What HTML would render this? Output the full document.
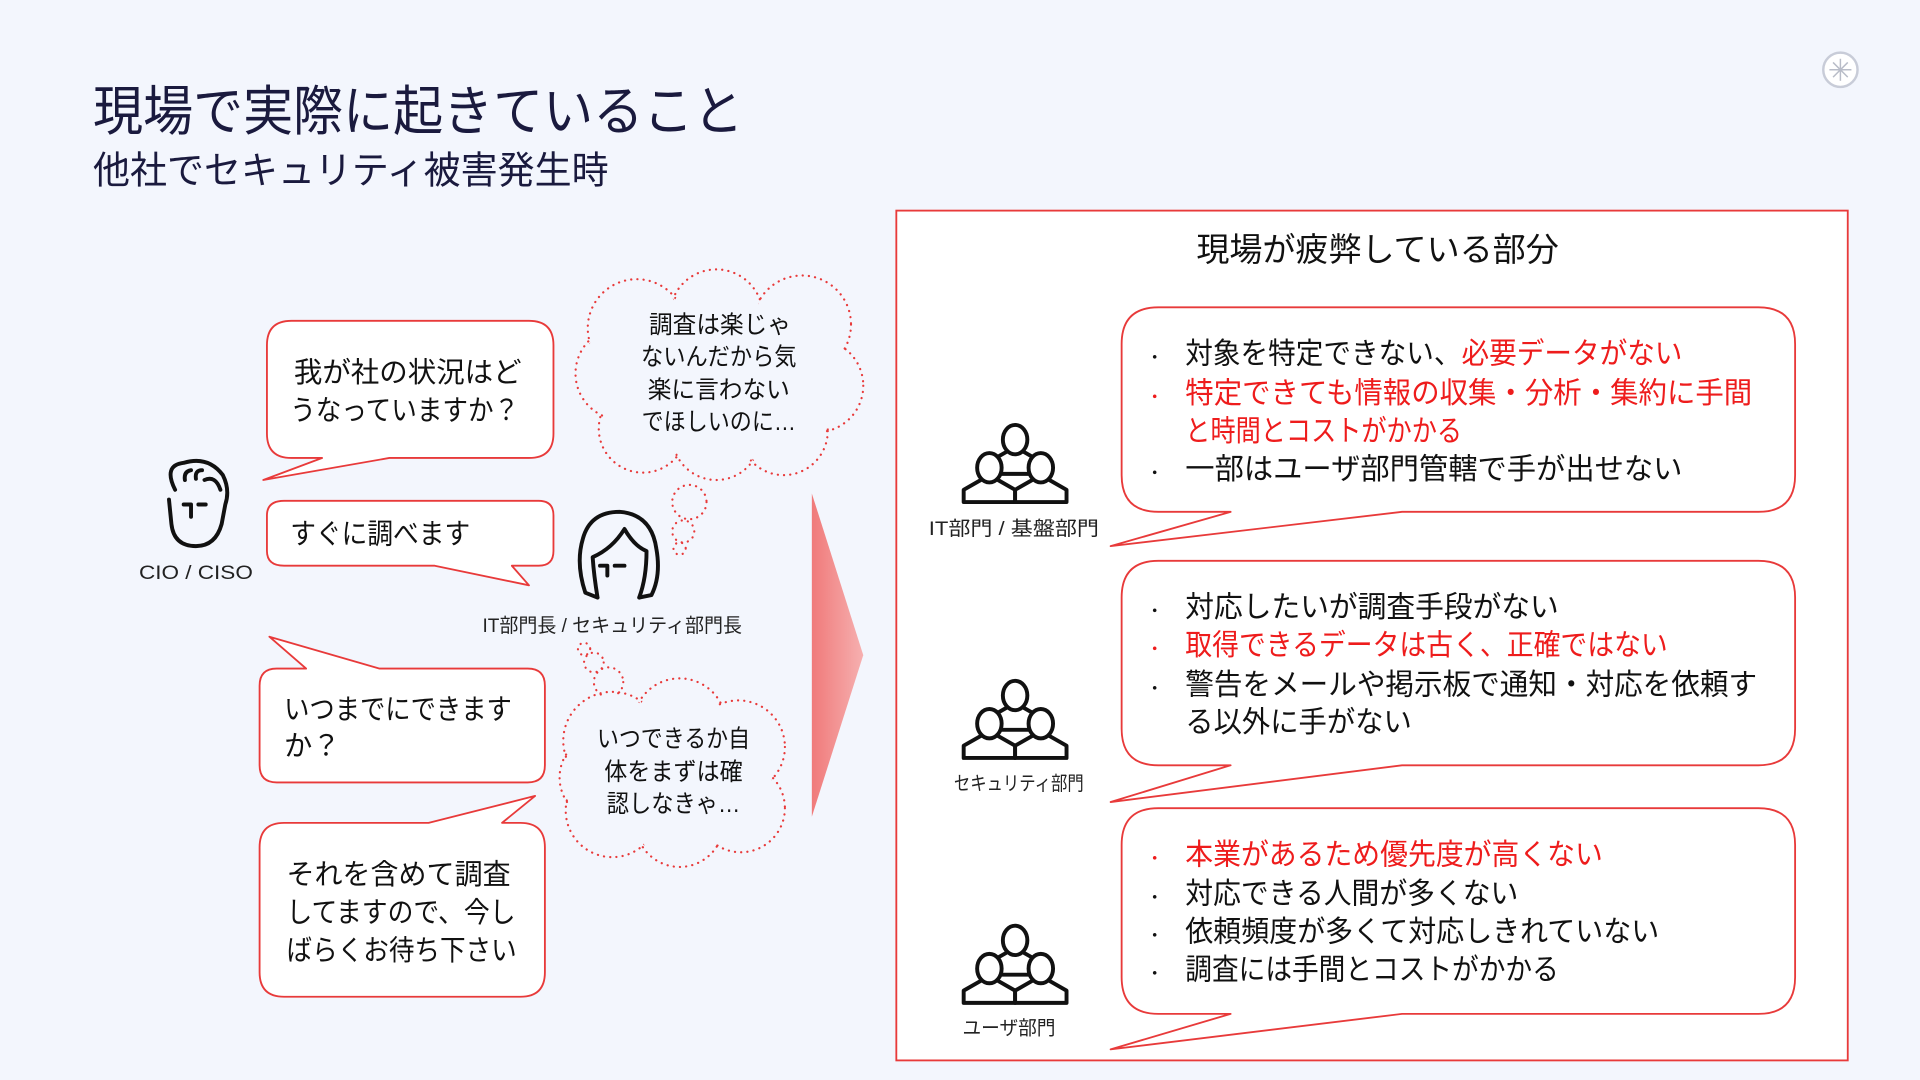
<!DOCTYPE html>
<html><head><meta charset="utf-8"><style>
html,body{margin:0;padding:0;background:#f3f6fd;}
svg{display:block}
text{font-family:"Liberation Sans","Noto Sans CJK JP",sans-serif;}
</style></head><body>
<svg width="1920" height="1080" viewBox="0 0 1568 882" xmlns="http://www.w3.org/2000/svg">
<defs>
<linearGradient id="ag" x1="0" y1="0" x2="1" y2="0">
<stop offset="0" stop-color="#f07a7a"/><stop offset="1" stop-color="#f6b0b0"/>
</linearGradient>
<g id="person">
<path d="M-7,22 L-21,30 L-21,40 L21,40 L21,30 L7,22" fill="#fff" stroke="#111" stroke-width="3.2" stroke-linejoin="round"/>
<ellipse cx="0" cy="12" rx="10" ry="12" fill="#fff" stroke="#111" stroke-width="3.2"/>
</g>
<g id="grp">
<use href="#person" x="0" y="0"/>
<use href="#person" x="-21" y="23"/>
<use href="#person" x="21" y="23"/>
</g>
</defs>
<rect width="1568" height="882" fill="#f3f6fd"/>
<circle cx="1503" cy="57" r="14" fill="#fff" stroke="#c8ccd8" stroke-width="2"/>
<g stroke="#b8bcc8" stroke-width="1.2"><line x1="1494" y1="57" x2="1512" y2="57"/><line x1="1503" y1="48" x2="1503" y2="66"/><line x1="1497" y1="51" x2="1509" y2="63"/><line x1="1509" y1="51" x2="1497" y2="63"/></g>

<text x="76" y="106" font-size="44" fill="#1a1a3e" textLength="531" lengthAdjust="spacingAndGlyphs">現場で実際に起きていること</text>
<text x="76" y="150" font-size="31" fill="#1a1a3e" textLength="421" lengthAdjust="spacingAndGlyphs">他社でセキュリティ被害発生時</text>

<g fill="#fff" stroke="#e83a3a" stroke-width="1.5" stroke-linejoin="round">
<path d="M238,262 H432 Q452,262 452,282 V354 Q452,374 432,374 H318 L215,392 L263,374 H238 Q218,374 218,354 V282 Q218,262 238,262 Z"/>
<path d="M232,409 H440 Q452,409 452,421 V450 Q452,462 440,462 H418 L432,478 L355,462 H232 Q218,462 218,450 V421 Q218,409 232,409 Z"/>
<path d="M226,546 H250 L220,520 L310,546 H431 Q445,546 445,560 V625 Q445,639 431,639 H226 Q212,639 212,625 V560 Q212,546 226,546 Z"/>
<path d="M232,672 H350 L437,650 L410,672 H425 Q445,672 445,692 V794 Q445,814 425,814 H232 Q212,814 212,794 V692 Q212,672 232,672 Z"/>
</g>
<g font-size="23" fill="#111" lengthAdjust="spacingAndGlyphs">
<text x="240" y="312" textLength="186" lengthAdjust="spacingAndGlyphs">我が社の状況はど</text>
<text x="237" y="343" textLength="187" lengthAdjust="spacingAndGlyphs">うなっていますか？</text>
<text x="237" y="444" textLength="147" lengthAdjust="spacingAndGlyphs">すぐに調べます</text>
<text x="232" y="587" textLength="186" lengthAdjust="spacingAndGlyphs">いつまでにできます</text>
<text x="232" y="617">か？</text>
<text x="234" y="722" textLength="183" lengthAdjust="spacingAndGlyphs">それを含めて調査</text>
<text x="234" y="753" textLength="187" lengthAdjust="spacingAndGlyphs">してますので、今し</text>
<text x="234" y="784" textLength="188" lengthAdjust="spacingAndGlyphs">ばらくお待ち下さい</text>
</g>

<g fill="none" stroke="#e83a3a" stroke-width="1.8" stroke-dasharray="0.1 5" stroke-linecap="round">
<circle cx="520" cy="268" r="40"/><circle cx="585" cy="258" r="38"/><circle cx="655" cy="265" r="40"/><circle cx="667" cy="315" r="38"/><circle cx="640" cy="352" r="36"/><circle cx="585" cy="356" r="36"/><circle cx="525" cy="350" r="36"/><circle cx="508" cy="305" r="38"/>
<circle cx="563" cy="410" r="14"/><circle cx="558" cy="434" r="9"/><circle cx="555" cy="448" r="5"/>
<circle cx="500" cy="605" r="40"/><circle cx="555" cy="592" r="38"/><circle cx="603" cy="610" r="38"/><circle cx="605" cy="660" r="36"/><circle cx="555" cy="672" r="36"/><circle cx="500" cy="662" r="38"/><circle cx="493" cy="635" r="36"/>
<circle cx="497" cy="557" r="12"/><circle cx="485" cy="541" r="8"/><circle cx="477" cy="530" r="5"/>
</g>
<g fill="#f3f6fd">
<circle cx="520" cy="268" r="38"/><circle cx="585" cy="258" r="36"/><circle cx="655" cy="265" r="38"/><circle cx="667" cy="315" r="36"/><circle cx="640" cy="352" r="34"/><circle cx="585" cy="356" r="34"/><circle cx="525" cy="350" r="34"/><circle cx="508" cy="305" r="36"/><ellipse cx="587" cy="308" rx="90" ry="55"/>
<circle cx="500" cy="605" r="38"/><circle cx="555" cy="592" r="36"/><circle cx="603" cy="610" r="36"/><circle cx="605" cy="660" r="34"/><circle cx="555" cy="672" r="34"/><circle cx="500" cy="662" r="36"/><circle cx="493" cy="635" r="34"/><ellipse cx="550" cy="632" rx="70" ry="50"/>
</g>
<g font-size="20" fill="#111" text-anchor="middle">
<text x="588" y="272" textLength="116" lengthAdjust="spacingAndGlyphs">調査は楽じゃ</text>
<text x="587" y="298" textLength="127" lengthAdjust="spacingAndGlyphs">ないんだから気</text>
<text x="587" y="325" textLength="116" lengthAdjust="spacingAndGlyphs">楽に言わない</text>
<text x="587" y="351" textLength="126" lengthAdjust="spacingAndGlyphs">でほしいのに…</text>
<text x="550" y="610" textLength="125" lengthAdjust="spacingAndGlyphs">いつできるか自</text>
<text x="550" y="637" textLength="113" lengthAdjust="spacingAndGlyphs">体をまずは確</text>
<text x="550" y="663" textLength="109" lengthAdjust="spacingAndGlyphs">認しなきゃ…</text>
</g>

<g fill="none" stroke="#111" stroke-width="3.2" stroke-linecap="round" stroke-linejoin="round">
<path d="M143,400 Q133,380 150,378 Q170,372 182,388 Q188,400 184,412 L181,428 Q176,446 160,446 Q142,446 140,428 L138,408"/>
<path d="M151,392 Q150,385 156,384 M160,391 Q159,384 165,384 M167,392 Q176,388 180,400"/>
<path d="M150,412 L156,412 L156,422 M162,412 L168,412"/>
<path d="M488,488 L478,484 Q470,460 476,440 Q482,418 506,418 Q532,420 536,448 Q540,470 532,486 L522,488 M488,488 Q485,470 484,455 Q500,448 510,432 Q518,446 528,450 Q528,472 522,488"/>
<path d="M490,462 L496,462 L496,470 M502,462 L510,462"/>
</g>
<g font-size="16" fill="#222" text-anchor="middle">
<text x="160" y="473" textLength="93" lengthAdjust="spacingAndGlyphs">CIO / CISO</text>
<text x="500" y="516" textLength="212" lengthAdjust="spacingAndGlyphs">IT部門長 / セキュリティ部門長</text>
</g>

<path d="M663,403 L705,535 L663,667 Z" fill="url(#ag)"/>

<rect x="732" y="172" width="777" height="694" fill="#fff" stroke="#e83a3a" stroke-width="1.5"/>
<text x="1125" y="213" font-size="27" fill="#111" text-anchor="middle" textLength="296" lengthAdjust="spacingAndGlyphs">現場が疲弊している部分</text>
<g fill="#fff" stroke="#e83a3a" stroke-width="1.5" stroke-linejoin="round">
<path d="M946,251 H1436 Q1466,251 1466,281 V388 Q1466,418 1436,418 H1145 L907,446 L1005,418 H946 Q916,418 916,388 V281 Q916,251 946,251 Z"/>
<path d="M946,458 H1436 Q1466,458 1466,488 V595 Q1466,625 1436,625 H1145 L907,655 L1005,625 H946 Q916,625 916,595 V488 Q916,458 946,458 Z"/>
<path d="M946,660 H1436 Q1466,660 1466,690 V798 Q1466,828 1436,828 H1145 L907,857 L1005,828 H946 Q916,828 916,798 V690 Q916,660 946,660 Z"/>
</g>
<g font-size="24" fill="#111">
<text x="936" y="297" font-size="14">・</text><text x="968" y="297" textLength="406" lengthAdjust="spacingAndGlyphs">対象を特定できない、<tspan fill="#ee1c1c">必要データがない</tspan></text>
<text x="936" y="329" font-size="14" fill="#ee1c1c">・</text><text x="968" y="329" fill="#ee1c1c" textLength="463" lengthAdjust="spacingAndGlyphs">特定できても情報の収集・分析・集約に手間</text>
<text x="968" y="360" fill="#ee1c1c" textLength="226" lengthAdjust="spacingAndGlyphs">と時間とコストがかかる</text>
<text x="936" y="391" font-size="14">・</text><text x="968" y="391" textLength="406" lengthAdjust="spacingAndGlyphs">一部はユーザ部門管轄で手が出せない</text>
<text x="936" y="504" font-size="14">・</text><text x="968" y="504" textLength="305" lengthAdjust="spacingAndGlyphs">対応したいが調査手段がない</text>
<text x="936" y="535" font-size="14" fill="#ee1c1c">・</text><text x="968" y="535" fill="#ee1c1c" textLength="394" lengthAdjust="spacingAndGlyphs">取得できるデータは古く、正確ではない</text>
<text x="936" y="567" font-size="14">・</text><text x="968" y="567" textLength="467" lengthAdjust="spacingAndGlyphs">警告をメールや掲示板で通知・対応を依頼す</text>
<text x="968" y="598" textLength="185" lengthAdjust="spacingAndGlyphs">る以外に手がない</text>
<text x="936" y="706" font-size="14" fill="#ee1c1c">・</text><text x="968" y="706" fill="#ee1c1c" textLength="341" lengthAdjust="spacingAndGlyphs">本業があるため優先度が高くない</text>
<text x="936" y="738" font-size="14">・</text><text x="968" y="738" textLength="272" lengthAdjust="spacingAndGlyphs">対応できる人間が多くない</text>
<text x="936" y="769" font-size="14">・</text><text x="968" y="769" textLength="387" lengthAdjust="spacingAndGlyphs">依頼頻度が多くて対応しきれていない</text>
<text x="936" y="800" font-size="14">・</text><text x="968" y="800" textLength="305" lengthAdjust="spacingAndGlyphs">調査には手間とコストがかかる</text>
</g>
<use href="#grp" x="829" y="347"/>
<use href="#grp" x="829" y="556"/>
<use href="#grp" x="829" y="756"/>
<g font-size="16" fill="#222" text-anchor="middle">
<text x="828" y="437" textLength="139" lengthAdjust="spacingAndGlyphs">IT部門 / 基盤部門</text>
<text x="832" y="645" textLength="106" lengthAdjust="spacingAndGlyphs">セキュリティ部門</text>
<text x="824" y="845" textLength="76" lengthAdjust="spacingAndGlyphs">ユーザ部門</text>
</g>
</svg>
</body></html>
